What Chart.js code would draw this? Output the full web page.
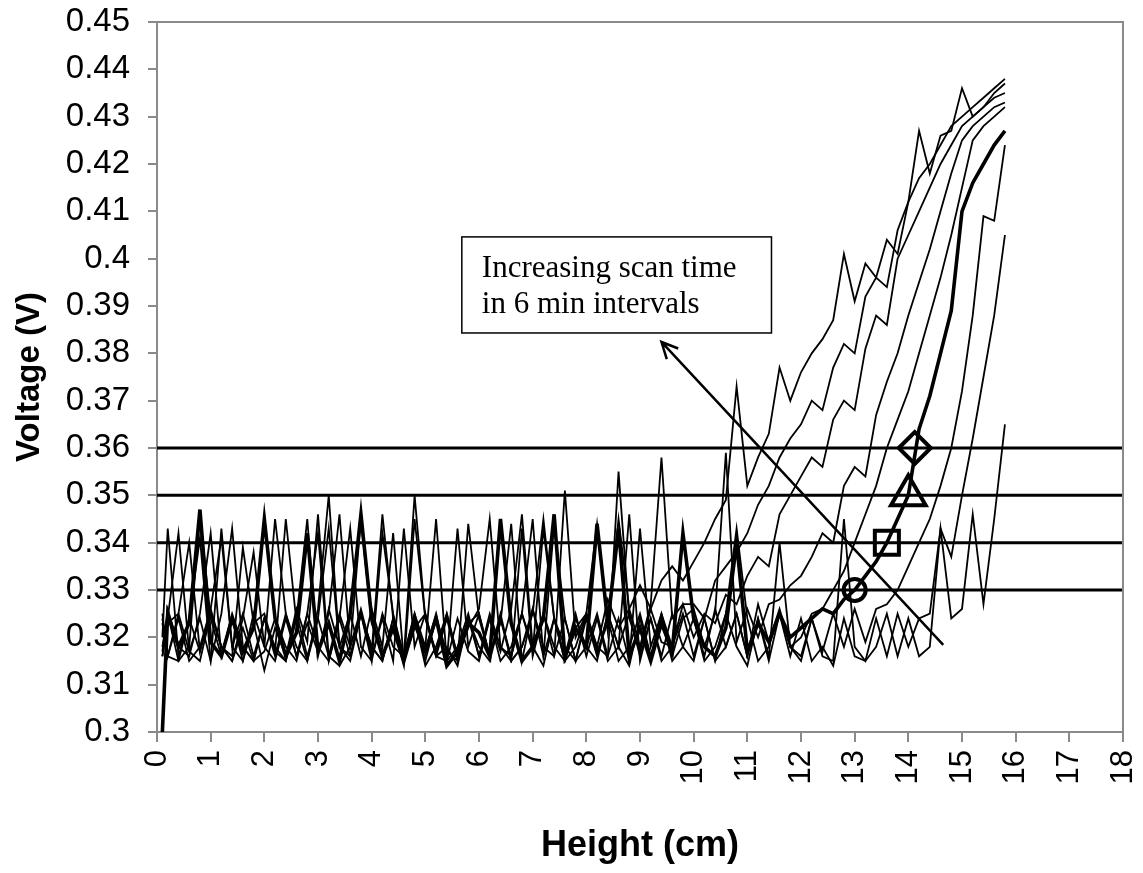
<!DOCTYPE html>
<html>
<head>
<meta charset="utf-8">
<script src="https://cdn.jsdelivr.net/npm/chart.js@4.4.0/dist/chart.umd.min.js"></script>
<style>
html, body { margin: 0; padding: 0; background: #fff; }
#wrap { width: 1143px; height: 873px; }
</style>
</head>
<body>
<div id="wrap"><canvas id="myChart"></canvas></div>
<script>
// scan positions (cm)
const heights = [
  0.1, 0.2, 0.4, 0.6, 0.8, 1.0, 1.2, 1.4, 1.6, 1.8,
  2.0, 2.2, 2.4, 2.6, 2.8, 3.0, 3.2, 3.4, 3.6, 3.8,
  4.0, 4.2, 4.4, 4.6, 4.8, 5.0, 5.2, 5.4, 5.6, 5.8,
  6.0, 6.2, 6.4, 6.6, 6.8, 7.0, 7.2, 7.4, 7.6, 7.8,
  8.0, 8.2, 8.4, 8.6, 8.8, 9.0, 9.2, 9.4, 9.6, 9.8,
  10.0, 10.2, 10.4, 10.6, 10.8, 11.0, 11.2, 11.4, 11.6, 11.8,
  12.0, 12.2, 12.4, 12.6, 12.8, 13.0, 13.2, 13.4, 13.6, 13.8,
  14.0, 14.2, 14.4, 14.6, 14.8, 15.0, 15.2, 15.4, 15.6, 15.8
];

// voltage (V) for each scan
const scan1 = [
  0.320, 0.343, 0.316, 0.324, 0.341, 0.315, 0.325, 0.343, 0.318, 0.315,
  0.324, 0.317, 0.345, 0.323, 0.315, 0.326, 0.350, 0.318, 0.325, 0.316,
  0.326, 0.318, 0.342, 0.315, 0.324, 0.317, 0.325, 0.315, 0.343, 0.318,
  0.325, 0.316, 0.323, 0.344, 0.315, 0.326, 0.318, 0.316, 0.351, 0.320,
  0.325, 0.318, 0.328, 0.322, 0.326, 0.331, 0.326, 0.332, 0.335, 0.332,
  0.336, 0.340, 0.345, 0.349, 0.373, 0.352, 0.358, 0.363, 0.377, 0.370,
  0.376, 0.380, 0.383, 0.387, 0.401, 0.391, 0.399, 0.396, 0.404, 0.401,
  0.412, 0.427, 0.418, 0.426, 0.427, 0.436, 0.430, 0.432, 0.434, 0.435
];
const scan2 = [
  0.316, 0.324, 0.342, 0.317, 0.315, 0.325, 0.318, 0.316, 0.339, 0.323,
  0.313, 0.322, 0.316, 0.326, 0.319, 0.346, 0.316, 0.325, 0.318, 0.345,
  0.323, 0.316, 0.322, 0.314, 0.345, 0.324, 0.317, 0.325, 0.316, 0.322,
  0.326, 0.345, 0.318, 0.316, 0.325, 0.317, 0.343, 0.324, 0.315, 0.322,
  0.325, 0.317, 0.323, 0.345, 0.326, 0.318, 0.327, 0.358, 0.324, 0.327,
  0.327, 0.324, 0.332, 0.335, 0.338, 0.342, 0.348, 0.352, 0.358, 0.362,
  0.365, 0.370, 0.368, 0.377, 0.382, 0.380, 0.392, 0.396, 0.394, 0.406,
  0.412, 0.417, 0.420, 0.424, 0.428, 0.430, 0.432, 0.434, 0.436, 0.438
];
const scan3 = [
  0.323, 0.316, 0.325, 0.340, 0.317, 0.326, 0.318, 0.315, 0.324, 0.338,
  0.318, 0.345, 0.325, 0.316, 0.323, 0.317, 0.325, 0.346, 0.318, 0.326,
  0.317, 0.346, 0.324, 0.315, 0.322, 0.325, 0.316, 0.315, 0.324, 0.317,
  0.315, 0.324, 0.317, 0.326, 0.346, 0.318, 0.325, 0.316, 0.324, 0.315,
  0.325, 0.318, 0.316, 0.355, 0.324, 0.317, 0.326, 0.319, 0.318, 0.327,
  0.320, 0.325, 0.323, 0.329, 0.327, 0.333, 0.337, 0.335, 0.346, 0.350,
  0.354, 0.358, 0.356, 0.366, 0.370, 0.368, 0.381, 0.388, 0.386, 0.400,
  0.405, 0.410, 0.415, 0.420, 0.424, 0.428, 0.430, 0.432, 0.435, 0.437
];
const scan4 = [
  0.317, 0.326, 0.318, 0.316, 0.325, 0.342, 0.316, 0.324, 0.315, 0.323,
  0.325, 0.317, 0.315, 0.324, 0.345, 0.316, 0.326, 0.318, 0.316, 0.325,
  0.316, 0.324, 0.315, 0.343, 0.318, 0.325, 0.316, 0.324, 0.315, 0.344,
  0.324, 0.316, 0.325, 0.315, 0.318, 0.326, 0.316, 0.344, 0.324, 0.315,
  0.318, 0.325, 0.316, 0.324, 0.315, 0.343, 0.318, 0.325, 0.316, 0.324,
  0.326, 0.318, 0.325, 0.359, 0.319, 0.326, 0.320, 0.327, 0.328, 0.331,
  0.333, 0.337, 0.342, 0.340, 0.352, 0.356, 0.354, 0.367, 0.374, 0.380,
  0.388, 0.395, 0.402, 0.410, 0.418, 0.425, 0.428, 0.430, 0.432, 0.433
];
const scan5 = [
  0.325, 0.316, 0.324, 0.315, 0.318, 0.326, 0.341, 0.318, 0.315, 0.325,
  0.318, 0.315, 0.324, 0.316, 0.325, 0.318, 0.315, 0.324, 0.343, 0.318,
  0.315, 0.325, 0.318, 0.316, 0.350, 0.324, 0.316, 0.318, 0.314, 0.324,
  0.316, 0.325, 0.318, 0.315, 0.343, 0.316, 0.325, 0.318, 0.315, 0.324,
  0.318, 0.315, 0.325, 0.318, 0.314, 0.324, 0.316, 0.325, 0.318, 0.342,
  0.324, 0.316, 0.326, 0.318, 0.325, 0.316, 0.327, 0.319, 0.326, 0.318,
  0.320, 0.325, 0.326, 0.330, 0.334, 0.340, 0.346, 0.352, 0.360, 0.366,
  0.372, 0.380, 0.388, 0.396, 0.405, 0.415, 0.425, 0.428, 0.430, 0.432
];
const scan6 = [
  0.316, 0.323, 0.325, 0.317, 0.324, 0.315, 0.343, 0.318, 0.325, 0.316,
  0.324, 0.318, 0.315, 0.325, 0.316, 0.324, 0.343, 0.318, 0.315, 0.325,
  0.318, 0.315, 0.324, 0.316, 0.325, 0.318, 0.345, 0.315, 0.318, 0.325,
  0.316, 0.324, 0.315, 0.318, 0.325, 0.345, 0.316, 0.324, 0.318, 0.315,
  0.324, 0.316, 0.325, 0.318, 0.346, 0.315, 0.324, 0.316, 0.325, 0.318,
  0.315, 0.324, 0.315, 0.318, 0.325, 0.316, 0.324, 0.315, 0.325, 0.318,
  0.316, 0.324, 0.317, 0.325, 0.318, 0.326, 0.319, 0.326, 0.327, 0.330,
  0.335, 0.340, 0.345, 0.352, 0.360, 0.372, 0.388, 0.409, 0.408, 0.424
];
const scan7 = [
  0.324, 0.316, 0.315, 0.324, 0.317, 0.325, 0.318, 0.315, 0.322, 0.315,
  0.317, 0.324, 0.318, 0.315, 0.325, 0.342, 0.315, 0.324, 0.316, 0.325,
  0.318, 0.315, 0.324, 0.316, 0.325, 0.315, 0.324, 0.317, 0.315, 0.323,
  0.325, 0.316, 0.324, 0.315, 0.318, 0.325, 0.345, 0.324, 0.316, 0.325,
  0.316, 0.324, 0.315, 0.318, 0.325, 0.316, 0.324, 0.315, 0.318, 0.325,
  0.316, 0.324, 0.315, 0.325, 0.318, 0.314, 0.324, 0.316, 0.340, 0.318,
  0.315, 0.324, 0.316, 0.315, 0.345, 0.318, 0.315, 0.324, 0.316, 0.325,
  0.318, 0.324, 0.325, 0.343, 0.337, 0.350, 0.362, 0.375, 0.388, 0.405
];
const scan8 = [
  0.318, 0.325, 0.315, 0.318, 0.346, 0.324, 0.316, 0.325, 0.318, 0.315,
  0.324, 0.316, 0.325, 0.318, 0.315, 0.324, 0.316, 0.314, 0.318, 0.325,
  0.315, 0.342, 0.325, 0.316, 0.324, 0.314, 0.318, 0.325, 0.316, 0.324,
  0.318, 0.315, 0.324, 0.316, 0.325, 0.318, 0.314, 0.324, 0.315, 0.318,
  0.325, 0.344, 0.324, 0.315, 0.318, 0.325, 0.316, 0.324, 0.315, 0.318,
  0.324, 0.315, 0.318, 0.325, 0.343, 0.324, 0.315, 0.318, 0.325, 0.316,
  0.324, 0.315, 0.318, 0.314, 0.324, 0.316, 0.315, 0.318, 0.325, 0.316,
  0.324, 0.316, 0.318, 0.343, 0.324, 0.326, 0.346, 0.327, 0.345, 0.365
];
// the highlighted (bold) scan
const scanBold = [
  0.300, 0.325, 0.318, 0.323, 0.347, 0.319, 0.316, 0.324, 0.317, 0.322,
  0.345, 0.324, 0.316, 0.321, 0.342, 0.317, 0.323, 0.315, 0.325, 0.346,
  0.324, 0.316, 0.322, 0.315, 0.323, 0.317, 0.324, 0.314, 0.317, 0.323,
  0.321, 0.316, 0.345, 0.323, 0.315, 0.318, 0.324, 0.346, 0.316, 0.322,
  0.318, 0.344, 0.323, 0.343, 0.316, 0.322, 0.315, 0.323, 0.317, 0.342,
  0.324, 0.318, 0.316, 0.322, 0.340, 0.317, 0.323, 0.319, 0.325, 0.320,
  0.322, 0.324, 0.326, 0.325, 0.328, 0.330, 0.333, 0.336, 0.340, 0.345,
  0.350, 0.364, 0.371, 0.380, 0.389, 0.410, 0.416, 0.420, 0.424, 0.427
];

// threshold levels and where the bold scan crosses them
const thresholds = [0.33, 0.34, 0.35, 0.36];
const markerHeights = [13.0, 13.6, 14.0, 14.12];
const markerVolts = [0.33, 0.34, 0.35, 0.36];
const markerStyles = ['circle', 'rect', 'triangle', 'rectRot'];
const markerSizes = [11, 17, 20, 16];

// note box and arrow, in data units
const noteLines = ['Increasing scan time', 'in 6 min intervals'];
const noteBox = [5.68, 0.4046, 11.45, 0.3843];
const arrowFrom = [14.65, 0.3184];
const arrowTo = [9.40, 0.3824];

const thinScans = [scan1, scan2, scan3, scan4, scan5, scan6, scan7, scan8];
const toPoints = (ys) => heights.map((h, i) => ({ x: h, y: ys[i] }));

const datasets = [];
thresholds.forEach(v => {
  datasets.push({ data: [{ x: 0, y: v }, { x: 18, y: v }], borderColor: '#000', borderWidth: 3, pointRadius: 0 });
});
thinScans.forEach(s => {
  datasets.push({ data: toPoints(s), borderColor: '#000', borderWidth: 1.8, pointRadius: 0 });
});
datasets.push({ data: toPoints(scanBold), borderColor: '#000', borderWidth: 3.6, pointRadius: 0 });
datasets.push({
  data: markerHeights.map((h, i) => ({ x: h, y: markerVolts[i] })),
  showLine: false,
  pointStyle: markerStyles,
  pointRadius: markerSizes,
  pointBorderWidth: 4,
  pointBorderColor: '#000',
  pointBackgroundColor: 'rgba(0,0,0,0)'
});

const frameAndNote = {
  id: 'frameAndNote',
  afterDraw(chart) {
    const { ctx, chartArea: a, scales: { x, y } } = chart;
    ctx.save();
    // grey frame on top and right
    ctx.strokeStyle = '#8a8a8a';
    ctx.lineWidth = 2;
    ctx.beginPath();
    ctx.moveTo(a.left, a.top);
    ctx.lineTo(a.right, a.top);
    ctx.lineTo(a.right, a.bottom);
    ctx.stroke();

    // note box
    const bx0 = x.getPixelForValue(noteBox[0]), by0 = y.getPixelForValue(noteBox[1]);
    const bx1 = x.getPixelForValue(noteBox[2]), by1 = y.getPixelForValue(noteBox[3]);
    ctx.fillStyle = '#fff';
    ctx.fillRect(bx0, by0, bx1 - bx0, by1 - by0);
    ctx.strokeStyle = '#000';
    ctx.lineWidth = 1.5;
    ctx.strokeRect(bx0, by0, bx1 - bx0, by1 - by0);
    ctx.fillStyle = '#000';
    ctx.font = '31px "Liberation Serif", "Times New Roman", serif';
    ctx.textBaseline = 'alphabetic';
    ctx.textAlign = 'left';
    noteLines.forEach((t, i) => ctx.fillText(t, bx0 + 20, by0 + 40 + i * 36));

    // arrow
    const ax0 = x.getPixelForValue(arrowFrom[0]), ay0 = y.getPixelForValue(arrowFrom[1]);
    const ax1 = x.getPixelForValue(arrowTo[0]), ay1 = y.getPixelForValue(arrowTo[1]);
    ctx.lineWidth = 2.5;
    ctx.beginPath();
    ctx.moveTo(ax0, ay0);
    ctx.lineTo(ax1, ay1);
    const ang = Math.atan2(ay1 - ay0, ax1 - ax0);
    const len = 18;
    ctx.moveTo(ax1 - len * Math.cos(ang - 0.45), ay1 - len * Math.sin(ang - 0.45));
    ctx.lineTo(ax1, ay1);
    ctx.lineTo(ax1 - len * Math.cos(ang + 0.45), ay1 - len * Math.sin(ang + 0.45));
    ctx.stroke();
    ctx.restore();
  }
};

const ctx = document.getElementById('myChart').getContext('2d');
const chart = new Chart(ctx, {
  type: 'line',
  data: { datasets: datasets },
  options: {
    responsive: true,
    maintainAspectRatio: false,
    animation: false,
    layout: { padding: 0 },
    plugins: { legend: { display: false }, tooltip: { enabled: false } },
    elements: { line: { tension: 0 } },
    scales: {
      x: {
        type: 'linear',
        min: 0,
        max: 18,
        ticks: {
          stepSize: 1,
          minRotation: 90,
          maxRotation: 90,
          padding: 8,
          color: '#000',
          font: { family: '"Liberation Sans", Arial, sans-serif', size: 31 }
        },
        grid: { drawOnChartArea: false, tickLength: 10, color: '#8a8a8a', lineWidth: 2 },
        border: { color: '#8a8a8a', width: 2 },
        title: {
          display: true,
          text: 'Height (cm)',
          color: '#000',
          font: { family: '"Liberation Sans Narrow", "Arial Narrow", "Liberation Sans", sans-serif', size: 36, weight: 'bold' },
          padding: { top: 0, bottom: 5 }
        },
        afterFit: (scale) => {
          scale.height = 141;
          scale.paddingLeft = 0;
          scale.paddingRight = 19;
        }
      },
      y: {
        min: 0.3,
        max: 0.45,
        ticks: {
          stepSize: 0.01,
          padding: 18,
          color: '#000',
          font: { family: '"Liberation Sans", Arial, sans-serif', size: 33 },
          callback: (v) => String(Math.round(v * 100) / 100)
        },
        grid: { drawOnChartArea: false, tickLength: 9, color: '#8a8a8a', lineWidth: 2 },
        border: { color: '#8a8a8a', width: 2 },
        title: {
          display: true,
          text: 'Voltage (V)',
          color: '#000',
          font: { family: '"Liberation Sans", Arial, sans-serif', size: 33, weight: 'bold' },
          padding: { top: 10, bottom: 0 }
        },
        afterFit: (scale) => {
          scale.width = 157;
          scale.paddingTop = 22;
          scale.paddingBottom = 0;
        }
      }
    }
  },
  plugins: [frameAndNote]
});
</script>
</body>
</html>
